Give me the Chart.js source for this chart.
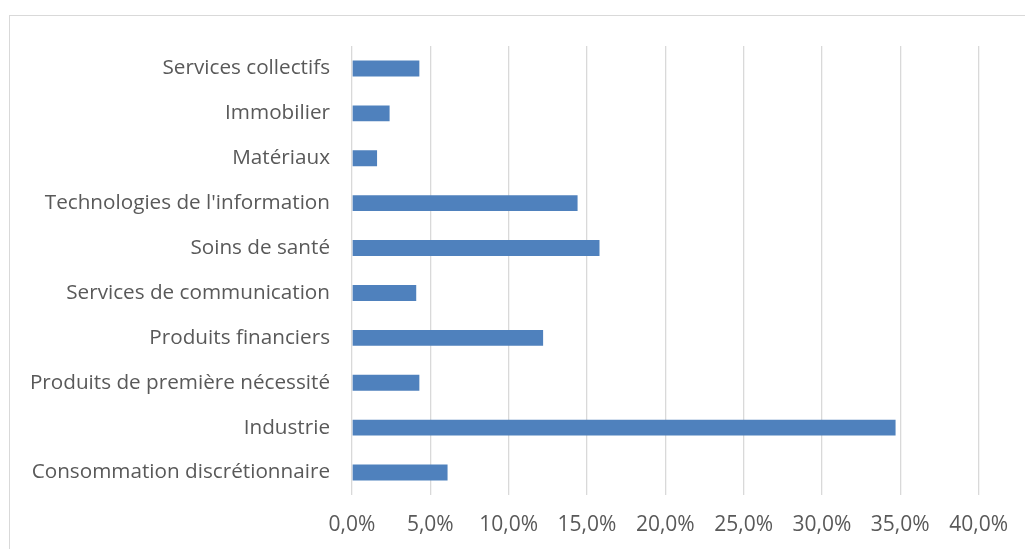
<!DOCTYPE html>
<html>
<head>
<meta charset="utf-8">
<script src="https://cdn.jsdelivr.net/npm/chart.js@4"></script>
<style>
  html, body { margin: 0; padding: 0; background: #fff; }
  #wrap { position: relative; width: 1025px; height: 549px; overflow: hidden; }
  #frame { position: absolute; left: 9px; top: 15px; width: 1100px; height: 600px;
           border-left: 1px solid #d9d9d9; border-top: 1px solid #d9d9d9; }
  canvas { position: absolute; left: 0; top: 0; }
</style>
</head>
<body>
<div id="wrap">
  <div id="frame"></div>
  <canvas id="barChart" width="1025" height="549"></canvas>
</div>
<script>
/* ================= DATA ================= */

const categories = [
  "Consommation discrétionnaire",
  "Industrie",
  "Produits de première nécessité",
  "Produits financiers",
  "Services de communication",
  "Soins de santé",
  "Technologies de l'information",
  "Matériaux",
  "Immobilier",
  "Services collectifs"
];

const weights = [6.1, 34.7, 4.3, 12.2, 4.1, 15.8, 14.4, 1.6, 2.4, 4.3];

const xTicks = [0, 5, 10, 15, 20, 25, 30, 35, 40];

/* ================= CHART ================= */

const numFont = { family: "'Open Sans', sans-serif", size: 21 };
const catFont = { family: "'Open Sans', sans-serif", size: 20.7 };

new Chart(document.getElementById("barChart"), {
  type: "bar",
  data: {
    labels: categories,
    datasets: [
      {
        data: weights,
        backgroundColor: "#4f81bd",
        borderWidth: 0,
        barPercentage: 1,
        categoryPercentage: 0.355
      }
    ]
  },
  options: {
    indexAxis: "y",
    responsive: false,
    animation: false,
    layout: { padding: { top: 46, right: 46, left: 0, bottom: 0 } },
    plugins: {
      legend: { display: false },
      tooltip: { enabled: false }
    },
    scales: {
      x: {
        min: xTicks[0],
        max: xTicks[xTicks.length - 1],
        afterBuildTicks: axis => {
          axis.ticks = xTicks.map(v => ({ value: v }));
        },
        afterFit: axis => { axis.height = 54; },
        grid: { color: "#d9d9d9", lineWidth: 1.3, drawTicks: false },
        border: { display: false },
        ticks: {
          padding: 17,
          color: "#595959",
          font: numFont,
          callback: v => v.toFixed(1).replace(".", ",") + "%"
        }
      },
      y: {
        reverse: true,
        afterFit: axis => { axis.width = 352; },
        grid: { display: false, drawTicks: false },
        border: { display: false },
        ticks: {
          padding: 22,
          color: "#595959",
          font: catFont
        }
      }
    }
  }
});
</script>
</body>
</html>
